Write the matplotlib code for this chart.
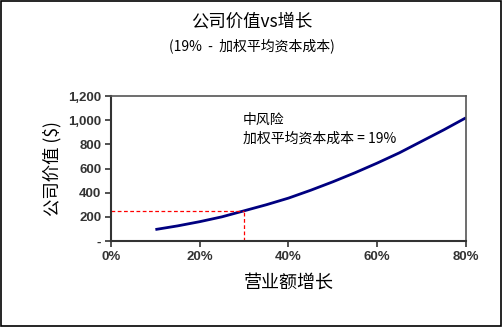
import matplotlib
matplotlib.use("Agg")
import matplotlib.pyplot as plt
from matplotlib.patches import Rectangle

plt.rcParams['font.family'] = ['Noto Sans CJK SC', 'DejaVu Sans']

# data
growth = [0.10, 0.15, 0.20, 0.25, 0.30, 0.35, 0.40, 0.45, 0.50, 0.55, 0.60, 0.65, 0.70, 0.75, 0.80]
value = [95, 125, 160, 200, 250, 300, 355, 420, 490, 565, 645, 730, 825, 920, 1020]
mark_growth = 0.30
mark_value = 250
x_ticks = [0, 0.2, 0.4, 0.6, 0.8]
x_labels = ['0%', '20%', '40%', '60%', '80%']
y_ticks = [0, 200, 400, 600, 800, 1000, 1200]
y_labels = ['-', '200', '400', '600', '800', '1,000', '1,200']

fig = plt.figure(figsize=(5.03, 3.27), dpi=100)
ax = fig.add_axes([0.2207, 0.263, 0.7057, 0.4434])

ax.plot(growth, value, color='#000080', lw=2.0, solid_capstyle='butt')
ax.plot([0, mark_growth], [mark_value, mark_value], color='red', lw=0.9, ls=(0, (3, 2)))
ax.plot([mark_growth, mark_growth], [0, mark_value], color='red', lw=0.9, ls=(0, (3, 2)))

ax.set_xlim(0, 0.8)
ax.set_ylim(0, 1200)
ax.set_xticks(x_ticks)
ax.set_xticklabels(x_labels)
ax.set_yticks(y_ticks)
ax.set_yticklabels(y_labels)
for lab in ax.get_xticklabels() + ax.get_yticklabels():
    lab.set_family(['Liberation Sans', 'DejaVu Sans'])
    lab.set_fontsize(9.5)
    lab.set_fontweight('bold')
    lab.set_color('#333333')
ax.tick_params(direction='out', length=4, width=1.2, color='#333333', pad=3)
ax.tick_params(top=False, right=False)
for s in ['left', 'bottom']:
    ax.spines[s].set_color('#333333')
    ax.spines[s].set_linewidth(1.5)
for s in ['top', 'right']:
    ax.spines[s].set_color('#555555')
    ax.spines[s].set_linewidth(1.2)

ax.set_xlabel('营业额增长', fontsize=13, labelpad=8)
ax.set_ylabel('公司价值 ($)', fontsize=12.5, labelpad=5)

ax.text(0.297, 1000, '中风险', fontsize=10, va='center')
ax.text(0.297, 844, '加权平均资本成本 = 19%', fontsize=10, va='center')

fig.text(0.5, 0.935, '公司价值vs增长', ha='center', va='center', fontsize=12.5)
fig.text(0.5, 0.86, '(19%  -  加权平均资本成本)', ha='center', va='center', fontsize=10)

fig.patches.append(Rectangle((0.002, 0.003), 0.994, 0.994, transform=fig.transFigure,
                             fill=False, edgecolor='black', lw=1.2))

fig.savefig('out.png', dpi=100)
